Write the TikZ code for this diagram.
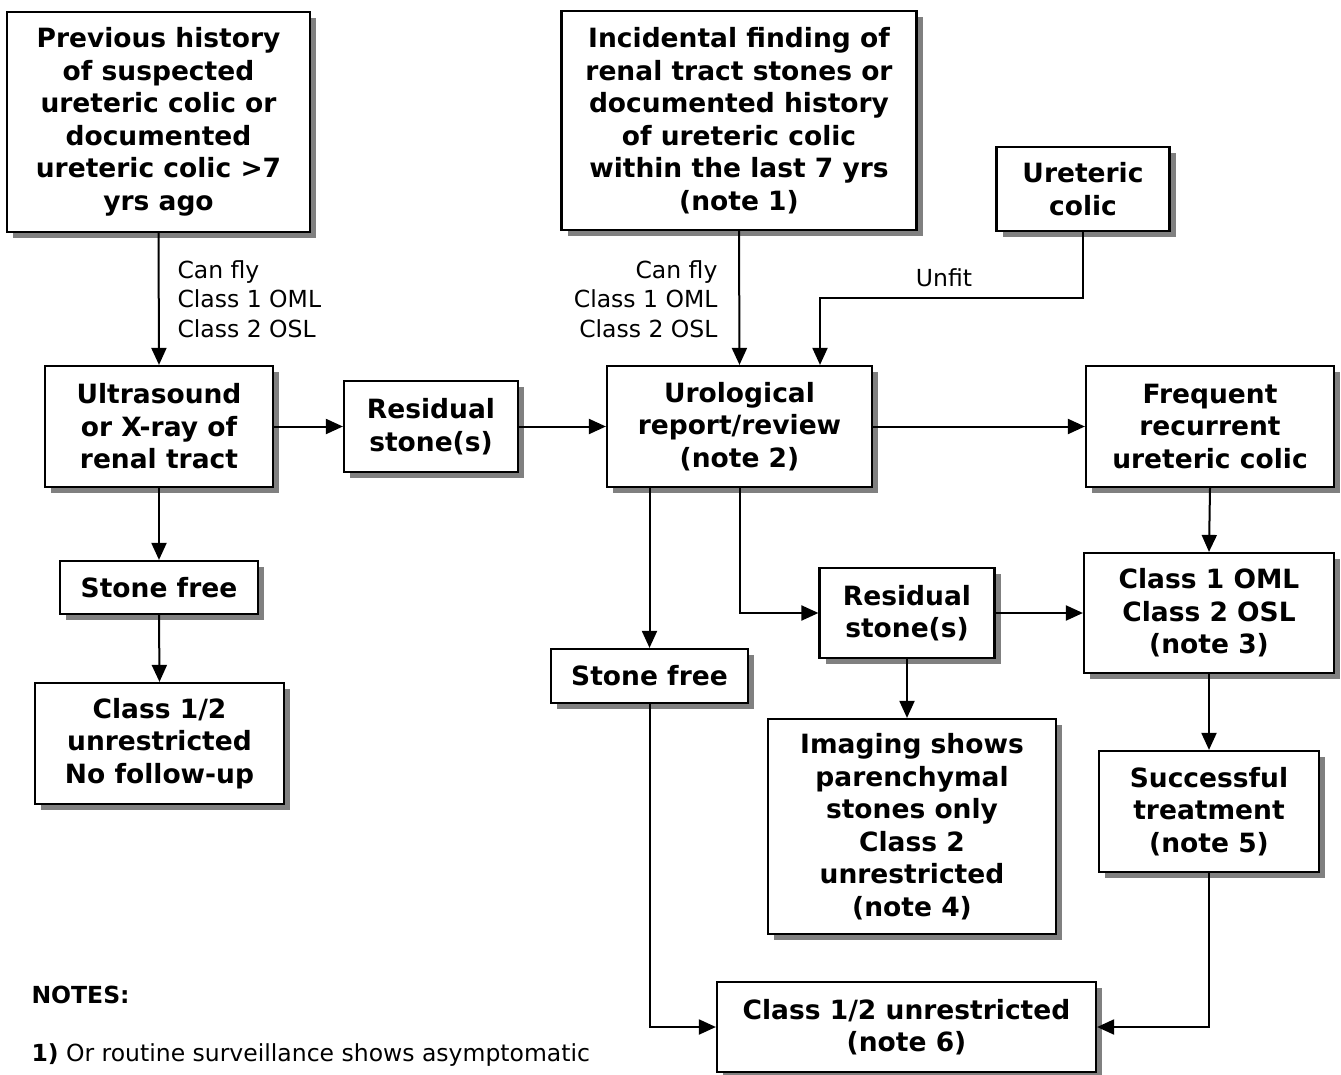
\documentclass[tikz,border=0pt]{standalone}
\usepackage{fontspec}
\setmainfont{DejaVu Sans}
\usetikzlibrary{arrows.meta,shadows}

\begin{document}
\begin{tikzpicture}[x=1pt,y=-1pt,
  box/.style={draw, line width=2.2pt, fill=white, align=center, inner sep=0pt,
    font=\fontsize{26.5}{32.5}\selectfont\bfseries,
    drop shadow={shadow xshift=6pt, shadow yshift=-6pt, opacity=1, fill=black!50}},
  arr/.style={line width=2pt, -{Triangle[length=17pt,width=15pt]}},
  lbl/.style={font=\fontsize{23.5}{29.5}\selectfont}]

  \useasboundingbox (0,0) rectangle (1341,1075);

  \node[box, minimum width=303pt, minimum height=220pt] (prev) at (158.5,122)
    {Previous history\\of suspected\\ureteric colic or\\documented\\ureteric colic >7\\yrs ago};
  \node[box, minimum width=355pt, minimum height=219pt] (incid) at (739,120.5)
    {Incidental finding of\\renal tract stones or\\documented history\\of ureteric colic\\within the last 7 yrs\\(note 1)};
  \node[box, minimum width=173pt, minimum height=84pt] (colic) at (1083,189) {Ureteric\\colic};

  \node[box, minimum width=228pt, minimum height=121pt] (ultra) at (159,426.5)
    {Ultrasound\\or X-ray of\\renal tract};
  \node[box, minimum width=174pt, minimum height=91pt] (resid1) at (431,426.5) {Residual\\stone(s)};
  \node[box, minimum width=265pt, minimum height=121pt] (urol) at (739.5,426.5)
    {Urological\\report/review\\(note 2)};
  \node[box, minimum width=248pt, minimum height=121pt] (freq) at (1210,426.5)
    {Frequent\\recurrent\\ureteric colic};

  \node[box, minimum width=198pt, minimum height=53pt] (free1) at (159,587.5) {Stone free};
  \node[box, minimum width=249pt, minimum height=121pt] (nofollow) at (159.5,743.5)
    {Class 1/2\\unrestricted\\No follow-up};

  \node[box, minimum width=175pt, minimum height=90pt] (resid2) at (907,613) {Residual\\stone(s)};
  \node[box, minimum width=250pt, minimum height=120pt] (oml) at (1209,613)
    {Class 1 OML\\Class 2 OSL\\(note 3)};
  \node[box, minimum width=197pt, minimum height=54pt] (free2) at (649.5,676) {Stone free};
  \node[box, minimum width=288pt, minimum height=215pt] (imaging) at (912,826.5)
    {Imaging shows\\parenchymal\\stones only\\Class 2\\unrestricted\\(note 4)};
  \node[box, minimum width=220pt, minimum height=121pt] (success) at (1209,811.5)
    {Successful\\treatment\\(note 5)};
  \node[box, minimum width=379pt, minimum height=90pt] (final) at (906.5,1027)
    {Class 1/2 unrestricted\\(note 6)};

  \node[lbl, anchor=west, align=left] (flyA) at (174,299) {Can fly\\Class 1 OML\\Class 2 OSL};
  \node[lbl, anchor=east, align=right] (flyB) at (721,299) {Can fly\\Class 1 OML\\Class 2 OSL};
  \node[lbl] (unfit) at (944,278) {Unfit};
  \coordinate (unfitbend) at (820,298);

  \draw[arr] (prev.south) -- (ultra.north);
  \draw[arr] (incid.south) -- (urol.north);
  \draw[arr] (colic.south) |- (unfitbend) -- (unfitbend |- urol.north);
  \draw[arr] (ultra.east) -- (resid1.west);
  \draw[arr] (resid1.east) -- (urol.west);
  \draw[arr] (urol.east) -- (freq.west);
  \draw[arr] (ultra.south) -- (free1.north);
  \draw[arr] (free1.south) -- (nofollow.north);
  \draw[arr] (free2.north |- urol.south) -- (free2.north);
  \draw[arr] (urol.south) |- (resid2.west);
  \draw[arr] (resid2.east) -- (oml.west);
  \draw[arr] (freq.south) -- (oml.north);
  \draw[arr] (resid2.south) -- (resid2.south |- imaging.north);
  \draw[arr] (oml.south) -- (success.north);
  \draw[arr] (free2.south) |- (final.west);
  \draw[arr] (success.south) |- (final.east);

  \node[lbl, anchor=west, font=\fontsize{23.5}{29.5}\selectfont\bfseries] (notes) at (28,995) {NOTES:};
  \node[lbl, anchor=west] (note1) at (28,1055) {\textbf{1)} Or routine surveillance shows asymptomatic};
\end{tikzpicture}
\end{document}
